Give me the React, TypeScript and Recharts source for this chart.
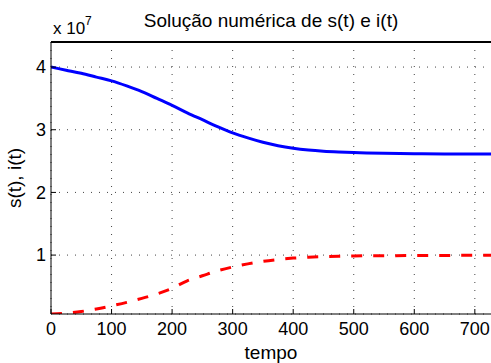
import { LineChart, Line, XAxis, YAxis, CartesianGrid, ReferenceLine } from 'recharts';

const TEMPO = [0, 25, 50, 75, 100, 125, 150, 175, 200, 225, 250, 275, 300, 325, 350, 375, 400, 425, 450, 475, 500, 550, 600, 650, 700, 730];
// valores em unidades de 1e7
const S_VALUES = [4.0, 3.95, 3.9, 3.84, 3.78, 3.7, 3.61, 3.5, 3.39, 3.27, 3.16, 3.05, 2.95, 2.87, 2.8, 2.745, 2.705, 2.677, 2.658, 2.645, 2.635, 2.623, 2.617, 2.614, 2.612, 2.612];
const I_VALUES = [0.06, 0.075, 0.1, 0.14, 0.19, 0.245, 0.31, 0.38, 0.47, 0.59, 0.67, 0.75, 0.81, 0.86, 0.9, 0.93, 0.952, 0.966, 0.976, 0.982, 0.986, 0.99, 0.993, 0.995, 0.996, 0.997];
const X_TICKS = [0, 100, 200, 300, 400, 500, 600, 700];
const Y_TICKS = [1, 2, 3, 4];
const X_MAX = 730;
const Y_MIN = 0.06;
const Y_MAX = 4.4;

const data = TEMPO.map((t, i) => ({ t, s: S_VALUES[i], i: I_VALUES[i] }));

const FONT = '"Liberation Sans", Arial, Helvetica, sans-serif';
const tickStyle = { fontSize: 18, fill: '#000', fontFamily: FONT };

export default function App() {
  return (
    <div style={{ position: 'absolute', left: 0, top: 0, width: 491, height: 363, background: '#fff', overflow: 'hidden' }}>
      <LineChart width={491} height={363} data={data} margin={{ top: 42, right: -2, bottom: 0, left: 0 }}>
        <CartesianGrid stroke="#444" strokeDasharray="1 7" />
        <XAxis
          dataKey="t"
          type="number"
          domain={[0, X_MAX]}
          ticks={X_TICKS}
          allowDataOverflow
          height={49}
          tickSize={-5}
          tickMargin={13}
          stroke="#000"
          tick={tickStyle}
        />
        <YAxis
          type="number"
          domain={[Y_MIN, Y_MAX]}
          ticks={Y_TICKS}
          allowDataOverflow
          width={51}
          tickSize={-5}
          tickMargin={10}
          stroke="#000"
          tick={tickStyle}
        />
        <YAxis yAxisId="right" orientation="right" type="number" domain={[Y_MIN, Y_MAX]} ticks={Y_TICKS} width={0} tickSize={-5} tick={false} stroke="#000" />
        <ReferenceLine segment={[{ x: 0, y: Y_MAX }, { x: X_MAX, y: Y_MAX }]} stroke="#000" strokeWidth={2} />
        <Line dataKey="s" type="monotone" stroke="#0000ff" strokeWidth={3} dot={false} isAnimationActive={false} />
        <Line dataKey="i" type="monotone" stroke="#ff0000" strokeWidth={3} strokeDasharray="11 11" dot={false} isAnimationActive={false} />
      </LineChart>
      <svg width={491} height={363} style={{ position: 'absolute', left: 0, top: 0, pointerEvents: 'none' }} fontFamily={FONT}>
        <text x={271} y={27} textAnchor="middle" fontSize={19}>Solução numérica de s(t) e i(t)</text>
        <text x={53} y={34} fontSize={17}>x 10</text>
        <text x={85} y={25} fontSize={12}>7</text>
        <text x={271} y={359} textAnchor="middle" fontSize={19}>tempo</text>
        <text x={21} y={178} textAnchor="middle" fontSize={19} transform="rotate(-90, 21, 178)">s(t), i(t)</text>
      </svg>
    </div>
  );
}
